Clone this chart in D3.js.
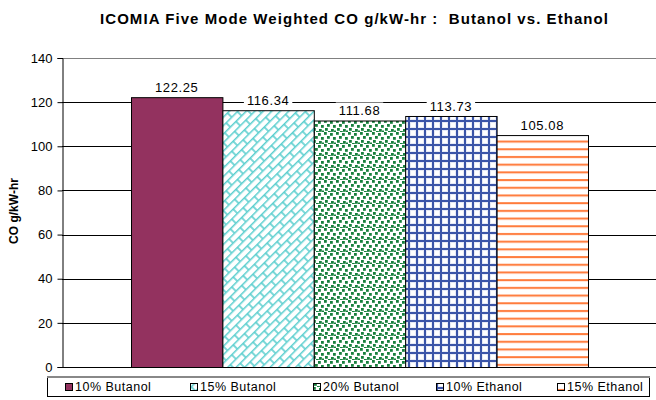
<!DOCTYPE html>
<html><head><meta charset="utf-8">
<script src="https://cdn.jsdelivr.net/npm/d3@7"></script>
<style>body{margin:0;background:#fff}svg{display:block;font-family:"Liberation Sans",Arial,sans-serif}</style>
</head><body>
<svg id="c" width="656" height="400"></svg>
<script>
const title = "ICOMIA Five Mode Weighted CO g/kW-hr :  Butanol vs. Ethanol";
const yTitle = "CO g/kW-hr";
const series = ["10% Butanol","15% Butanol","20% Butanol","10% Ethanol","15% Ethanol"];
const values = [122.25,116.34,111.68,113.73,105.08];
const yTicks = [0,20,40,60,80,100,120,140];
const patternIds = ["p0","p1","p2","p3","p4"];

(function(){
const svg = d3.select("#c");
const defs = svg.append("defs");

defs.append("pattern").attr("id","p0").attr("patternUnits","userSpaceOnUse").attr("width",4).attr("height",4)
  .append("rect").attr("width",4).attr("height",4).attr("fill","#93325F");

{
  const p = defs.append("pattern").attr("id","p1").attr("patternUnits","userSpaceOnUse")
    .attr("width",16).attr("height",12).attr("patternTransform","rotate(-45)");
  p.append("rect").attr("width",16).attr("height",12).attr("fill","#fff");
  p.append("path").attr("d","M0,0.75H16M0,6.75H16M1,0.75V6.75M9,6.75V12.75M9,-5.25V0.75")
    .attr("stroke","#5CCFCF").attr("stroke-width",1.6).attr("fill","none");
}
{
  const p = defs.append("pattern").attr("id","p2").attr("patternUnits","userSpaceOnUse").attr("width",12).attr("height",12);
  p.append("rect").attr("width",12).attr("height",12).attr("fill","#fff");
  [[0,0],[6,1],[3,4],[9,5],[1,8],[7,9],[4,11],[10,10.5]].forEach(([px,py])=>
    p.append("rect").attr("x",px).attr("y",py).attr("width",2.8).attr("height",2.8).attr("fill","#17803D"));
}
{
  const p = defs.append("pattern").attr("id","p3").attr("patternUnits","userSpaceOnUse").attr("width",8).attr("height",8);
  p.append("rect").attr("width",8).attr("height",8).attr("fill","#E6EAF6");
  p.append("rect").attr("x",3).attr("y",3).attr("width",4).attr("height",4).attr("fill","#fff");
  p.append("path").attr("d","M1,0V8M0,1H8").attr("stroke","#3B55A8").attr("stroke-width",2);
}
{
  const p = defs.append("pattern").attr("id","p4").attr("patternUnits","userSpaceOnUse").attr("width",8).attr("height",7.7);
  p.append("rect").attr("width",8).attr("height",7.7).attr("fill","#fff");
  p.append("rect").attr("y",2).attr("width",8).attr("height",2).attr("fill","#FF7A3A");
}

const pL = 62, pR = 657, pT = 58, pB = 367;
const x = d3.scaleBand().domain(series).range([pL,pR]).paddingInner(0).paddingOuter(0.755);
const y = d3.scaleLinear().domain([0,140]).range([pB,pT]);

svg.append("text").attr("x",354).attr("y",24).attr("text-anchor","middle")
  .attr("font-size",15).attr("font-weight","bold").attr("xml:space","preserve")
  .style("white-space","pre").attr("textLength",508).attr("lengthAdjust","spacing").text(title);
svg.append("text").attr("transform","translate(18,211) rotate(-90)").attr("text-anchor","middle")
  .attr("font-size",12).attr("font-weight","bold").text(yTitle);

svg.append("g").selectAll("line").data(yTicks.filter(t=>t>0)).join("line")
  .attr("x1",pL).attr("x2",pR).attr("y1",d=>Math.round(y(d))+0.5).attr("y2",d=>Math.round(y(d))+0.5)
  .attr("stroke",d=>d===140?"#808080":"#000").attr("stroke-width",1);

const ya = svg.append("g").attr("transform",`translate(${pL+0.5},0)`)
  .call(d3.axisLeft(y).tickValues(yTicks).tickSize(5).tickPadding(5).tickFormat(d3.format("d")));
ya.select(".domain").attr("stroke","#000");
ya.selectAll(".tick line").attr("stroke","#000");
ya.selectAll("text").attr("font-size",13).attr("font-family","Liberation Sans, Arial, sans-serif").attr("fill","#000");

svg.append("g").selectAll("rect").data(series).join("rect")
  .attr("x",d=>x(d)+0.5).attr("y",(d,i)=>y(values[i])+0.5)
  .attr("width",x.bandwidth()).attr("height",(d,i)=>pB-y(values[i]))
  .attr("fill",(d,i)=>`url(#${patternIds[i]})`).attr("stroke","#000").attr("stroke-width",1);

svg.append("line").attr("x1",pL).attr("x2",pR).attr("y1",pB+0.5).attr("y2",pB+0.5).attr("stroke","#000");

const lg = svg.append("g").selectAll("g").data(series).join("g")
  .attr("transform",(d,i)=>`translate(${x(d)+x.bandwidth()/2},${y(values[i])-10})`);
const lr = lg.append("rect").attr("fill","#fff");
const lt = lg.append("text").attr("text-anchor","middle").attr("dy","0.35em").attr("font-size",13)
  .attr("letter-spacing",0.6).text((d,i)=>values[i].toFixed(2));
lt.each(function(){
  const w = this.getComputedTextLength();
  d3.select(this.previousSibling).attr("x",-w/2-3).attr("y",-8).attr("width",w+6).attr("height",16);
});

const leg = svg.append("g");
leg.append("rect").attr("x",47.5).attr("y",376.5).attr("width",602).attr("height",20)
  .attr("fill","#fff").attr("stroke","#000");
leg.append("line").attr("x1",47).attr("x2",650).attr("y1",377).attr("y2",377).attr("stroke","#888").attr("stroke-width",2);
const legX = [65,190,313,436,557];
const li = leg.selectAll("g.li").data(series).join("g").attr("class","li")
  .attr("transform",(d,i)=>`translate(${legX[i]},387)`);
li.append("rect").attr("x",0.5).attr("y",-3.5).attr("width",7).attr("height",7)
  .attr("fill",(d,i)=>`url(#${patternIds[i]})`).attr("stroke","#000");
li.append("text").attr("x",10).attr("dy","0.35em").attr("font-size",12.5).attr("letter-spacing",0.5).text(d=>d);
})();
</script>
</body></html>
